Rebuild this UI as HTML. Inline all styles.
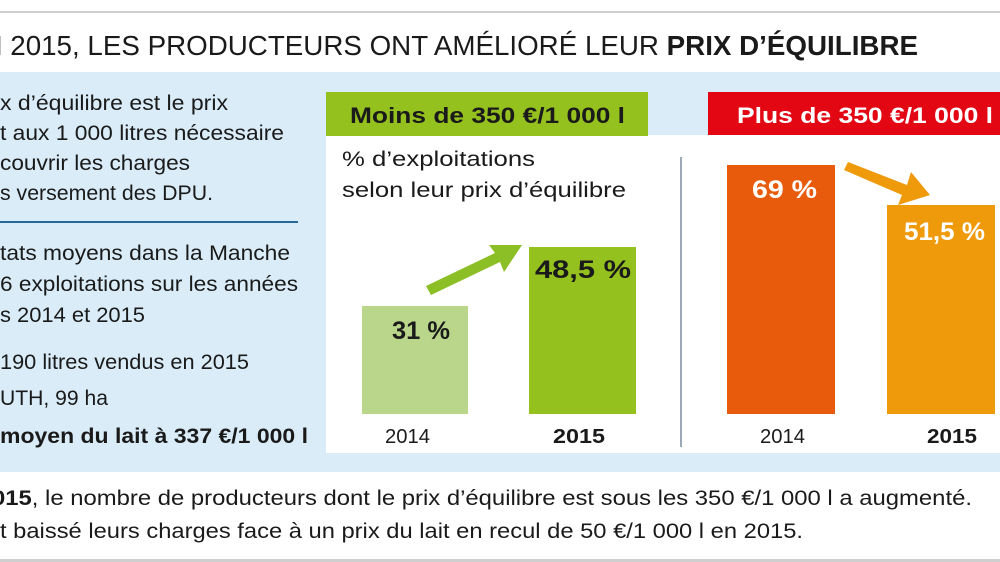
<!DOCTYPE html>
<html><head><meta charset="utf-8"><style>
html,body{margin:0;padding:0;background:#fff;}
svg{display:block;font-family:"Liberation Sans",sans-serif;}
</style></head><body>
<svg width="1000" height="562" viewBox="0 0 1000 562" xmlns="http://www.w3.org/2000/svg">
<rect width="1000" height="562" fill="#fff"/>
<rect x="0" y="11" width="1000" height="2" fill="#cfcfcf"/>
<rect x="0" y="559" width="1000" height="3" fill="#cfcfcf"/>
<text x="-36" y="55" font-size="28" fill="#1a1a1a" textLength="954" lengthAdjust="spacingAndGlyphs">EN 2015, LES PRODUCTEURS ONT AMÉLIORÉ LEUR <tspan font-weight="bold">PRIX D’ÉQUILIBRE</tspan></text>
<rect x="0" y="72" width="1000" height="400" fill="#d9ecf8"/>
<rect x="326" y="135" width="674" height="318" fill="#fff"/>
<rect x="326" y="92" width="322" height="44" fill="#95c11f"/>
<rect x="708" y="92" width="292" height="43" fill="#e30613"/>
<text x="350" y="123" font-size="22" font-weight="bold" fill="#1a1a1a" textLength="275" lengthAdjust="spacingAndGlyphs">Moins de 350 €/1 000 l</text>
<text x="737" y="123" font-size="22" font-weight="bold" fill="#fff" textLength="256" lengthAdjust="spacingAndGlyphs">Plus de 350 €/1 000 l</text>
<g font-size="21" fill="#1a1a1a">
<text x="0" y="110" textLength="228" lengthAdjust="spacingAndGlyphs">x d’équilibre est le prix</text>
<text x="0" y="140" textLength="284" lengthAdjust="spacingAndGlyphs">t aux 1 000 litres nécessaire</text>
<text x="0" y="170" textLength="190" lengthAdjust="spacingAndGlyphs">couvrir les charges</text>
<text x="0" y="200" textLength="213" lengthAdjust="spacingAndGlyphs">s versement des DPU.</text>
<text x="0" y="260" textLength="290" lengthAdjust="spacingAndGlyphs">tats moyens dans la Manche</text>
<text x="0" y="291" textLength="298" lengthAdjust="spacingAndGlyphs">6 exploitations sur les années</text>
<text x="0" y="322" textLength="145" lengthAdjust="spacingAndGlyphs">s 2014 et 2015</text>
<text x="0" y="369" textLength="249" lengthAdjust="spacingAndGlyphs">190 litres vendus en 2015</text>
<text x="0" y="405" textLength="108" lengthAdjust="spacingAndGlyphs">UTH, 99 ha</text>
<text x="0" y="443" font-weight="bold" textLength="308" lengthAdjust="spacingAndGlyphs">moyen du lait à 337 €/1 000 l</text>
<text x="342" y="166" textLength="193" lengthAdjust="spacingAndGlyphs">% d’exploitations</text>
<text x="342" y="197" textLength="284" lengthAdjust="spacingAndGlyphs">selon leur prix d’équilibre</text>
<text x="-8" y="505" textLength="980" lengthAdjust="spacingAndGlyphs"><tspan font-weight="bold">015</tspan>, le nombre de producteurs dont le prix d’équilibre est sous les 350 €/1 000 l a augmenté.</text>
<text x="0" y="538" textLength="803" lengthAdjust="spacingAndGlyphs">t baissé leurs charges face à un prix du lait en recul de 50 €/1 000 l en 2015.</text>
</g>
<rect x="0" y="221" width="298" height="2" fill="#2a6a9a"/>
<rect x="680" y="157" width="2" height="290" fill="#9aa8b8"/>
<rect x="362" y="306" width="106" height="108" fill="#b9d68a"/>
<rect x="529" y="247" width="107" height="167" fill="#95c11f"/>
<rect x="727" y="165" width="108" height="249" fill="#e85a0c"/>
<rect x="887" y="205" width="108" height="209" fill="#ee9a0a"/>
<polygon points="426,286 431,295 500,262 504,272 522,245 489,245 495,253" fill="#8cbf26"/>
<polygon points="848,162 844,170 902,195 898,205 930,195 911,172 907,185" fill="#ee9a0a"/>
<g font-weight="bold" font-size="25">
<text x="392" y="339" fill="#1a1a1a" textLength="58" lengthAdjust="spacingAndGlyphs">31 %</text>
<text x="535" y="278" fill="#1a1a1a" textLength="96" lengthAdjust="spacingAndGlyphs">48,5 %</text>
<text x="752" y="198" fill="#fff" textLength="65" lengthAdjust="spacingAndGlyphs">69 %</text>
<text x="904" y="240" fill="#fff" textLength="81" lengthAdjust="spacingAndGlyphs">51,5 %</text>
</g>
<g font-size="20" fill="#1a1a1a">
<text x="385" y="443" textLength="45" lengthAdjust="spacingAndGlyphs">2014</text>
<text x="553" y="443" font-weight="bold" textLength="52" lengthAdjust="spacingAndGlyphs">2015</text>
<text x="760" y="443" textLength="45" lengthAdjust="spacingAndGlyphs">2014</text>
<text x="927" y="443" font-weight="bold" textLength="50" lengthAdjust="spacingAndGlyphs">2015</text>
</g>
</svg>
</body></html>
